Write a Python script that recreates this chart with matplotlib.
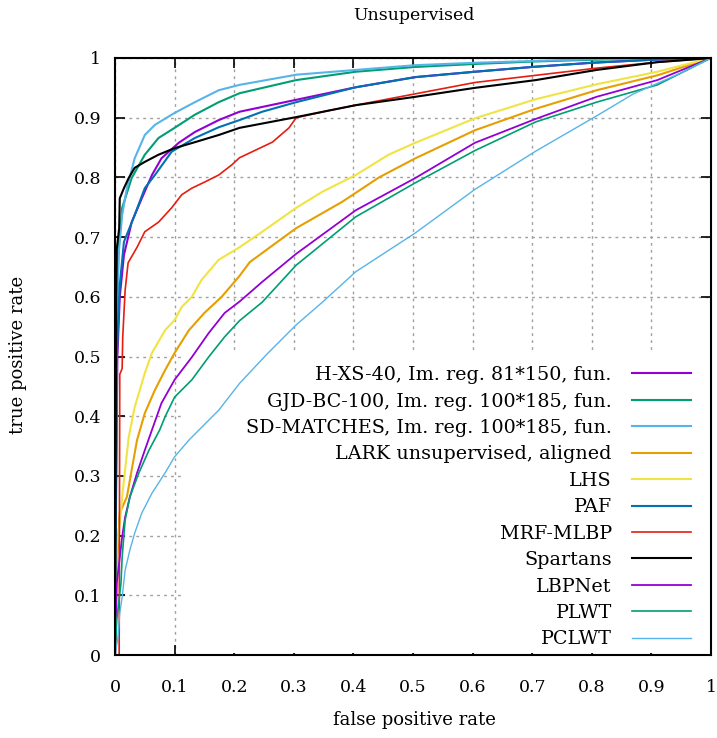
import matplotlib
matplotlib.use("Agg")
import matplotlib.pyplot as plt
from matplotlib.patches import Rectangle

plt.rcParams["font.family"] = ["DejaVu Serif"]

# ROC curves (fpr, tpr)
h_xs_fpr = [0, 0.002, 0.004, 0.008, 0.015, 0.028, 0.045, 0.062, 0.078, 0.107, 0.134, 0.174, 0.209, 0.247, 0.304, 0.404, 0.504, 0.604, 0.7, 0.8, 0.9, 1.0]
h_xs_tpr = [0, 0.3, 0.5, 0.6, 0.67, 0.725, 0.765, 0.804, 0.832, 0.858, 0.876, 0.896, 0.91, 0.918, 0.93, 0.951, 0.968, 0.977, 0.985, 0.992, 0.997, 1.0]

gjd_fpr = [0, 0.003, 0.006, 0.012, 0.028, 0.05, 0.073, 0.1, 0.134, 0.174, 0.209, 0.304, 0.404, 0.504, 0.604, 0.7, 0.8, 0.9, 1]
gjd_tpr = [0, 0.55, 0.68, 0.749, 0.799, 0.838, 0.866, 0.883, 0.905, 0.926, 0.941, 0.963, 0.977, 0.985, 0.99, 0.994, 0.997, 0.999, 1]

sdm_fpr = [0, 0.003, 0.006, 0.012, 0.02, 0.033, 0.05, 0.067, 0.1, 0.134, 0.174, 0.209, 0.304, 0.404, 0.504, 0.604, 0.7, 0.8, 0.9, 1]
sdm_tpr = [0, 0.55, 0.67, 0.737, 0.782, 0.832, 0.871, 0.888, 0.908, 0.926, 0.946, 0.955, 0.972, 0.98, 0.988, 0.992, 0.995, 0.998, 0.999, 1]

lark_fpr = [0, 0.003, 0.008, 0.02, 0.028, 0.037, 0.05, 0.067, 0.084, 0.1, 0.124, 0.15, 0.179, 0.209, 0.226, 0.304, 0.381, 0.443, 0.504, 0.604, 0.706, 0.808, 0.91, 1]
lark_tpr = [0, 0.15, 0.238, 0.265, 0.31, 0.36, 0.405, 0.444, 0.477, 0.506, 0.544, 0.573, 0.6, 0.635, 0.658, 0.715, 0.759, 0.8, 0.832, 0.879, 0.915, 0.946, 0.971, 1]

lhs_fpr = [0, 0.003, 0.01, 0.012, 0.015, 0.023, 0.033, 0.05, 0.062, 0.084, 0.1, 0.112, 0.129, 0.145, 0.174, 0.209, 0.247, 0.304, 0.348, 0.404, 0.459, 0.504, 0.604, 0.706, 0.808, 0.91, 1]
lhs_tpr = [0, 0.18, 0.24, 0.265, 0.293, 0.365, 0.415, 0.472, 0.506, 0.544, 0.561, 0.583, 0.6, 0.628, 0.662, 0.683, 0.709, 0.749, 0.776, 0.804, 0.838, 0.858, 0.899, 0.931, 0.956, 0.977, 1]

paf_fpr = [0, 0.003, 0.008, 0.015, 0.033, 0.05, 0.067, 0.095, 0.134, 0.174, 0.209, 0.247, 0.304, 0.404, 0.504, 0.604, 0.7, 0.8, 0.9, 1]
paf_tpr = [0, 0.5, 0.62, 0.692, 0.737, 0.782, 0.804, 0.843, 0.866, 0.884, 0.896, 0.91, 0.926, 0.951, 0.968, 0.977, 0.985, 0.992, 0.997, 1]

mrf_fpr = [0, 0.007, 0.008, 0.012, 0.013, 0.017, 0.022, 0.037, 0.05, 0.073, 0.095, 0.112, 0.129, 0.15, 0.174, 0.196, 0.209, 0.226, 0.264, 0.292, 0.304, 0.359, 0.404, 0.504, 0.604, 0.706, 0.808, 0.91, 1]
mrf_tpr = [0, 0.0, 0.47, 0.48, 0.533, 0.611, 0.657, 0.683, 0.709, 0.725, 0.749, 0.771, 0.782, 0.792, 0.804, 0.821, 0.833, 0.841, 0.859, 0.883, 0.9, 0.912, 0.921, 0.94, 0.959, 0.971, 0.983, 0.993, 1]

spartans_fpr = [0, 0.002, 0.003, 0.007, 0.008, 0.015, 0.023, 0.033, 0.05, 0.073, 0.1, 0.134, 0.174, 0.209, 0.304, 0.404, 0.504, 0.604, 0.706, 0.808, 0.91, 0.95, 1]
spartans_tpr = [0, 0.6, 0.68, 0.715, 0.765, 0.782, 0.799, 0.816, 0.826, 0.838, 0.849, 0.859, 0.871, 0.883, 0.901, 0.921, 0.935, 0.95, 0.963, 0.98, 0.993, 0.996, 1]

lbpnet_fpr = [0, 0.003, 0.012, 0.017, 0.025, 0.037, 0.05, 0.062, 0.078, 0.1, 0.129, 0.157, 0.184, 0.209, 0.247, 0.304, 0.404, 0.504, 0.604, 0.706, 0.808, 0.91, 1]
lbpnet_tpr = [0, 0.12, 0.198, 0.231, 0.265, 0.305, 0.343, 0.377, 0.422, 0.461, 0.499, 0.539, 0.573, 0.592, 0.625, 0.672, 0.745, 0.799, 0.858, 0.898, 0.935, 0.963, 1]

plwt_fpr = [0, 0.003, 0.01, 0.012, 0.017, 0.025, 0.04, 0.057, 0.075, 0.084, 0.1, 0.129, 0.157, 0.184, 0.209, 0.247, 0.304, 0.404, 0.504, 0.604, 0.706, 0.808, 0.91, 1]
plwt_tpr = [0, 0.06, 0.12, 0.164, 0.226, 0.265, 0.305, 0.343, 0.377, 0.399, 0.432, 0.461, 0.499, 0.533, 0.56, 0.591, 0.653, 0.734, 0.791, 0.845, 0.893, 0.926, 0.955, 1]

pclwt_fpr = [0, 0.005, 0.008, 0.012, 0.017, 0.025, 0.033, 0.045, 0.062, 0.084, 0.1, 0.124, 0.174, 0.209, 0.254, 0.304, 0.348, 0.404, 0.504, 0.604, 0.706, 0.808, 0.87, 0.95, 1]
pclwt_tpr = [0, 0.03, 0.07, 0.097, 0.142, 0.176, 0.204, 0.238, 0.271, 0.305, 0.332, 0.36, 0.41, 0.455, 0.503, 0.553, 0.591, 0.642, 0.707, 0.78, 0.844, 0.903, 0.94, 0.975, 1]

labels = ["H-XS-40, Im. reg. 81*150, fun.",
          "GJD-BC-100, Im. reg. 100*185, fun.",
          "SD-MATCHES, Im. reg. 100*185, fun.",
          "LARK unsupervised, aligned",
          "LHS", "PAF", "MRF-MLBP", "Spartans",
          "LBPNet", "PLWT", "PCLWT"]
curves = [(h_xs_fpr, h_xs_tpr), (gjd_fpr, gjd_tpr), (sdm_fpr, sdm_tpr),
          (lark_fpr, lark_tpr), (lhs_fpr, lhs_tpr), (paf_fpr, paf_tpr),
          (mrf_fpr, mrf_tpr), (spartans_fpr, spartans_tpr),
          (lbpnet_fpr, lbpnet_tpr), (plwt_fpr, plwt_tpr), (pclwt_fpr, pclwt_tpr)]
# gnuplot default line colours
colors = ["#9400D3", "#009E73", "#56B4E9", "#E69F00", "#F0E442", "#0072B2",
          "#E51E10", "black", "#9400D3", "#009E73", "#56B4E9"]
widths = [1.5, 1.5, 1.5, 1.5, 1.5, 1.5, 1.2, 1.5, 1.3, 1.2, 1.0]

fig = plt.figure(figsize=(7.17, 7.38), dpi=100)
ax = fig.add_axes([115 / 717, 83 / 738, 596 / 717, 597 / 738])

for (fx, ty), lab, c, w in zip(curves, labels, colors, widths):
    ax.plot(fx, ty, color=c, lw=w, label=lab, zorder=2)

ax.set_xlim(0, 1)
ax.set_ylim(0, 1)
ticks = [0, 0.1, 0.2, 0.3, 0.4, 0.5, 0.6, 0.7, 0.8, 0.9, 1]
ticklab = ["0", "0.1", "0.2", "0.3", "0.4", "0.5", "0.6", "0.7", "0.8", "0.9", "1"]
ax.set_xticks(ticks, ticklab)
ax.set_yticks(ticks, ticklab)
ax.tick_params(direction="in", length=7, width=1.2, top=True, right=True,
               labelsize=12.5)
ax.tick_params(axis="y", pad=10)
ax.tick_params(axis="x", pad=17)
ax.set_axisbelow(True)
ax.grid(True, color="#a0a0a0", ls=(0, (2, 3)), lw=1)
for s in ax.spines.values():
    s.set_linewidth(1.5)

# opaque key area, as gnuplot draws it
ax.add_patch(Rectangle((0.113, 0.004), 0.885, 0.505, transform=ax.transAxes,
                       facecolor="white", edgecolor="none", zorder=1))

leg = ax.legend(loc="lower right", bbox_to_anchor=(0.967, 0.011),
                borderaxespad=0, borderpad=0, frameon=False,
                markerfirst=False, fontsize=13.8, handlelength=3.1,
                handletextpad=1.05, labelspacing=0.44)
leg.set_zorder(3)

fig.text(414 / 717, 1 - 15 / 738, "Unsupervised", ha="center", va="center", fontsize=12.5)
fig.text(414 / 717, 1 - 720 / 738, "false positive rate", ha="center", va="center", fontsize=13)
fig.text(18 / 717, 1 - 355 / 738, "true positive rate", ha="center", va="center",
         rotation=90, fontsize=13)

fig.savefig("out.png", dpi=100)
